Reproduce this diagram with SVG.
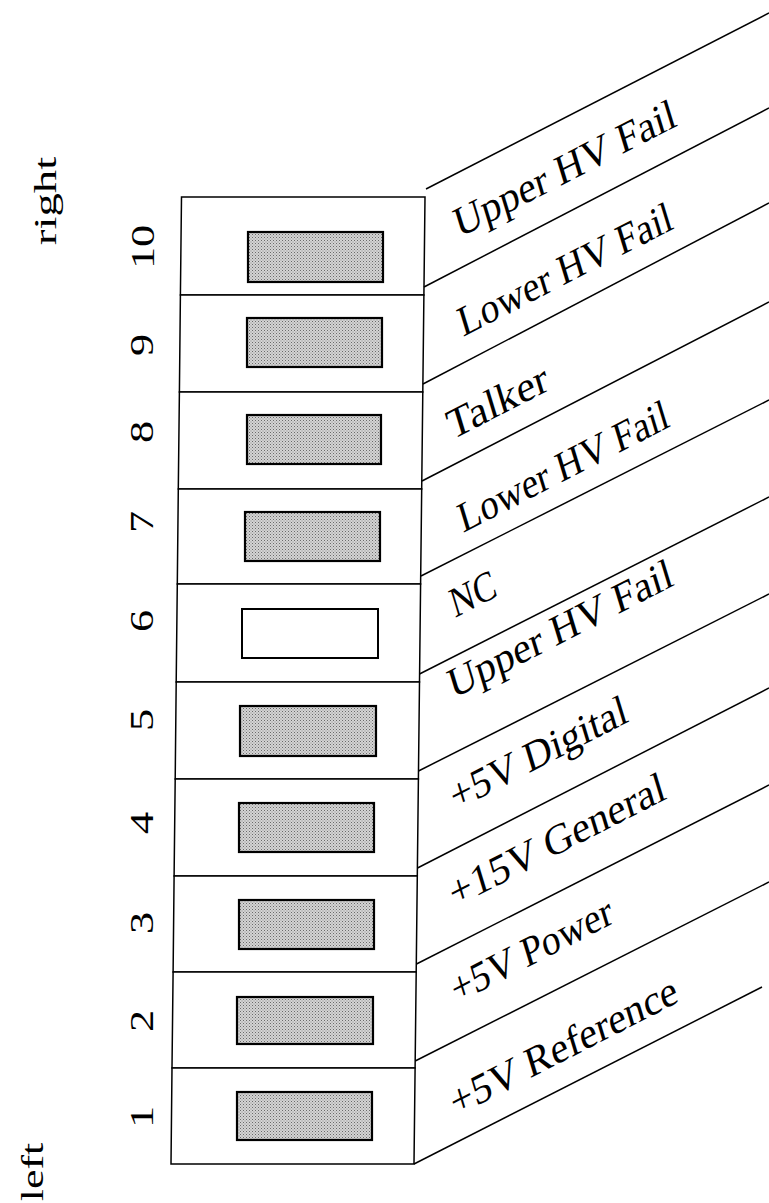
<svg xmlns="http://www.w3.org/2000/svg" width="769" height="1203" viewBox="0 0 769 1203">
<defs>
<pattern id="dots" width="3" height="3" patternUnits="userSpaceOnUse">
<rect width="3" height="3" fill="#d4d4d4"/>
<rect x="0" y="0" width="1" height="1" fill="#6a6a6a"/>
<rect x="1.5" y="1.5" width="1" height="1" fill="#8a8a8a"/>
</pattern>
</defs>
<style>
.cell{fill:#fff;stroke:#000;stroke-width:1.5}
.pad{fill:url(#dots);stroke:#000;stroke-width:2.2}
.pad0{fill:#fff;stroke:#000;stroke-width:2}
.num{font-family:"Liberation Serif",serif;font-size:34px;fill:#000;text-anchor:middle}
.side{font-family:"Liberation Serif",serif;font-size:32px;fill:#000;text-anchor:middle}
.lbl{font-family:"Liberation Serif",serif;font-size:33px;fill:#000}
.wire{fill:none;stroke:#000;stroke-width:1.5}
</style>
<rect width="769" height="1203" fill="#fff"/>
<text class="side" transform="matrix(0,-1.3,1,0,56,201)" textLength="68" lengthAdjust="spacingAndGlyphs">right</text>
<text class="side" transform="matrix(0,-1.3,1,0,43,1172)" textLength="45" lengthAdjust="spacingAndGlyphs">left</text>

<g id="pin10">
<polygon class="cell" points="181.5,197 425,197 423.9,295 180.4,295"/>
<rect class="pad" x="248" y="232" width="135" height="50"/>
<text class="num" transform="matrix(0,-1.3,1,0,154,247)">10</text>
<text class="lbl" transform="matrix(0.93,-0.478,0.368,1.209,459,238)" textLength="236" lengthAdjust="spacingAndGlyphs">Upper HV Fail</text>
</g>
<g id="pin9">
<polygon class="cell" points="180.4,295 423.9,295 422.8,392 179.4,392"/>
<rect class="pad" x="247" y="318" width="135" height="49"/>
<text class="num" transform="matrix(0,-1.3,1,0,153,345)">9</text>
<text class="lbl" transform="matrix(0.93,-0.478,0.368,1.209,463,337)" textLength="228" lengthAdjust="spacingAndGlyphs">Lower HV Fail</text>
</g>
<g id="pin8">
<polygon class="cell" points="179.4,392 422.8,392 421.7,489 178.3,489"/>
<rect class="pad" x="247" y="415" width="134" height="49"/>
<text class="num" transform="matrix(0,-1.3,1,0,153,432)">8</text>
<text class="lbl" transform="matrix(0.93,-0.478,0.368,1.209,452,440)" textLength="106" lengthAdjust="spacingAndGlyphs">Talker</text>
</g>
<g id="pin7">
<polygon class="cell" points="178.3,489 421.7,489 420.6,584 177.3,584"/>
<rect class="pad" x="245" y="512" width="135" height="49"/>
<text class="num" transform="matrix(0,-1.3,1,0,153,522)">7</text>
<text class="lbl" transform="matrix(0.93,-0.478,0.368,1.209,463,533)" textLength="224" lengthAdjust="spacingAndGlyphs">Lower HV Fail</text>
</g>
<g id="pin6">
<polygon class="cell" points="177.3,584 420.6,584 419.5,682 176.2,682"/>
<rect class="pad0" x="242" y="609" width="136" height="49"/>
<text class="num" transform="matrix(0,-1.3,1,0,153,621)">6</text>
<text class="lbl" transform="matrix(0.93,-0.478,0.368,1.209,455,618)" textLength="47" lengthAdjust="spacingAndGlyphs">NC</text>
</g>
<g id="pin5">
<polygon class="cell" points="176.2,682 419.5,682 418.4,779 175.2,779"/>
<rect class="pad" x="240" y="706" width="136" height="50"/>
<text class="num" transform="matrix(0,-1.3,1,0,153,720)">5</text>
<text class="lbl" transform="matrix(0.93,-0.478,0.368,1.209,453,699)" textLength="239" lengthAdjust="spacingAndGlyphs">Upper HV Fail</text>
</g>
<g id="pin4">
<polygon class="cell" points="175.2,779 418.4,779 417.3,876 174.1,876"/>
<rect class="pad" x="239" y="803" width="135" height="49"/>
<text class="num" transform="matrix(0,-1.3,1,0,153,823)">4</text>
<text class="lbl" transform="matrix(0.93,-0.478,0.368,1.209,455,811)" textLength="188" lengthAdjust="spacingAndGlyphs">+5V Digital</text>
</g>
<g id="pin3">
<polygon class="cell" points="174.1,876 417.3,876 416.2,972 173.1,972"/>
<rect class="pad" x="239" y="900" width="135" height="49"/>
<text class="num" transform="matrix(0,-1.3,1,0,153,923)">3</text>
<text class="lbl" transform="matrix(0.93,-0.478,0.368,1.209,454,908)" textLength="230" lengthAdjust="spacingAndGlyphs">+15V General</text>
</g>
<g id="pin2">
<polygon class="cell" points="173.1,972 416.2,972 415.1,1068 172,1068"/>
<rect class="pad" x="237" y="997" width="136" height="47"/>
<text class="num" transform="matrix(0,-1.3,1,0,153,1021)">2</text>
<text class="lbl" transform="matrix(0.93,-0.478,0.368,1.209,456,1004)" textLength="171" lengthAdjust="spacingAndGlyphs">+5V Power</text>
</g>
<g id="pin1">
<polygon class="cell" points="172,1068 415.1,1068 414,1164 171,1164"/>
<rect class="pad" x="237" y="1092" width="135" height="48"/>
<text class="num" transform="matrix(0,-1.3,1,0,153,1117)">1</text>
<text class="lbl" transform="matrix(0.93,-0.478,0.368,1.209,455,1117)" textLength="242" lengthAdjust="spacingAndGlyphs">+5V Reference</text>
</g>

<g id="connectors">
<line class="wire" x1="426" y1="189" x2="769" y2="13"/>
<line class="wire" x1="424" y1="287" x2="769" y2="108"/>
<line class="wire" x1="423" y1="384" x2="769" y2="203"/>
<line class="wire" x1="422" y1="481" x2="769" y2="302"/>
<line class="wire" x1="421" y1="576" x2="769" y2="400"/>
<line class="wire" x1="419.5" y1="674" x2="769" y2="497"/>
<line class="wire" x1="418.5" y1="771" x2="769" y2="594"/>
<line class="wire" x1="417.5" y1="868" x2="769" y2="688"/>
<line class="wire" x1="416.5" y1="964" x2="769" y2="785"/>
<line class="wire" x1="415.2" y1="1061" x2="769" y2="882"/>
<line class="wire" x1="414" y1="1164" x2="762" y2="987"/>
</g>
</svg>
